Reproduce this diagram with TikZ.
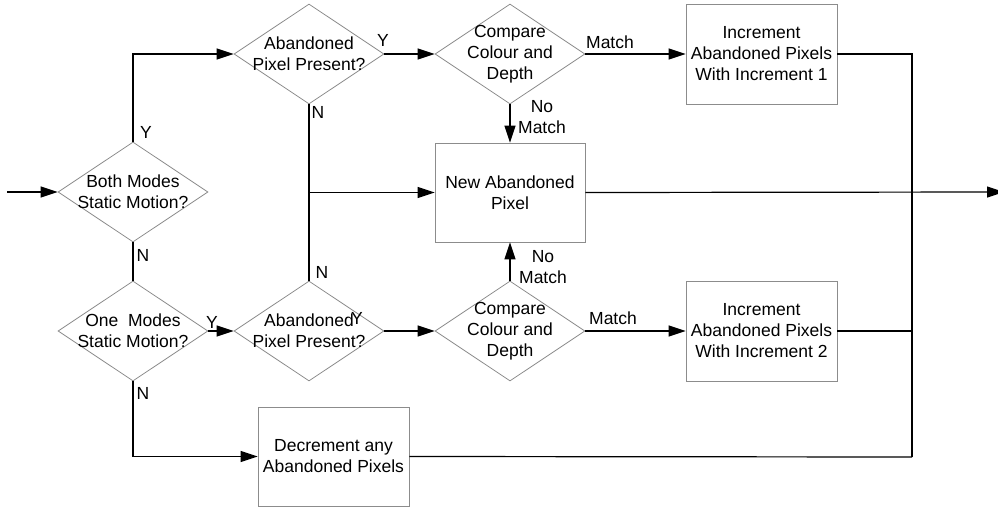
\documentclass[tikz,border=0pt]{standalone}
\usepackage{fontspec}
\setmainfont{Liberation Sans}
\usetikzlibrary{shapes.geometric,arrows.meta}
\definecolor{shapegray}{HTML}{8C8C8C}
\newcommand\flowfont{\fontsize{17.5}{21}\selectfont}

\begin{document}
\begin{tikzpicture}[x=1pt,y=-1pt,
  shape line/.style={draw=shapegray, line width=0.8pt},
  decision/.style={diamond, shape line, inner sep=0pt,
    minimum width=150pt, minimum height=100pt},
  process/.style={rectangle, shape line, inner sep=0pt,
    minimum width=151pt, minimum height=100pt, align=center, font=\flowfont},
  txt/.style={align=center, font=\flowfont, inner sep=0pt},
  lbl/.style={align=center, font=\flowfont, inner sep=0pt},
  flow/.style={draw=black, line width=1.2pt},
  arr/.style={flow, -{Triangle[length=17pt,width=11pt]}}
]
\useasboundingbox (0,0) rectangle (998,508);

% decisions
\node[decision, label={[txt]center:{Both Modes\\Static Motion?}}] (both) at (133,192) {};
\node[decision, label={[txt]center:{One~ Modes\\Static Motion?}}] (one) at (133,331) {};
\node[decision, label={[txt]center:{Abandoned\\Pixel Present?}}] (ab1) at (309,54) {};
\node[decision, label={[txt]center:{Abandoned\\Pixel Present?}}] (ab2) at (309,331) {};
\node[decision, label={[txt]center:{Compare\\Colour and\\Depth}}] (cmp1) at (510,54) {};
\node[decision, label={[txt]center:{Compare\\Colour and\\Depth}}] (cmp2) at (510,331) {};

% processes
\node[process] (inc1) at (761.5,54) {Increment\\Abandoned Pixels\\With Increment 1};
\node[process] (inc2) at (761.5,331) {Increment\\Abandoned Pixels\\With Increment 2};
\node[process, minimum width=150pt, minimum height=99pt] (newab) at (510,192.5) {New Abandoned\\Pixel};
\node[process, minimum height=99pt] (dec) at (333.5,456.5) {Decrement any\\Abandoned Pixels};

% free ends
\coordinate (in) at (7,192);
\coordinate (out) at (1004,192);
\coordinate (busTop) at (912,54);
\coordinate (busBot) at (912,457);

% connectors
\draw[arr] (in) -- (both.west);
\draw[arr] (both.north) |- (ab1.west);
\draw[flow] (both.south) -- (one.north);
\draw[arr] (one.east) -- (ab2.west);
\draw[arr] (one.south) |- (dec.west);
\draw[arr] (ab1.east) -- (cmp1.west);
\draw[arr] (ab2.east) -- (cmp2.west);
\draw[flow] (ab1.south) -- (ab2.north);
\draw[arr] (ab1.south |- newab.west) -- (newab.west);
\draw[arr] (cmp1.east) -- (inc1.west);
\draw[arr] (cmp2.east) -- (inc2.west);
\draw[arr] (cmp1.south) -- (newab.north);
\draw[arr] (cmp2.north) -- (newab.south);
\draw[flow] (inc1.east) -- (busTop) -- (busBot);
\draw[flow] (inc2.east) -- (inc2.east -| busTop);
\draw[flow] (dec.east) -- (busBot);
\draw[arr] (newab.east) -- (out);

% branch labels
\node[lbl] (yBoth) at (146,132) {Y};
\node[lbl] (nBoth) at (143,255) {N};
\node[lbl] (yOne) at (212,322) {Y};
\node[lbl] (nOne) at (143,393) {N};
\node[lbl] (yAb1) at (383,40) {Y};
\node[lbl] (nAb1) at (318,112) {N};
\node[lbl] (nAb2) at (322,272) {N};
\node[lbl] (yAb2) at (357,318) {Y};
\node[lbl] (mCmp1) at (610,42) {Match};
\node[lbl] (nmCmp1) at (542,117) {No\\Match};
\node[lbl] (mCmp2) at (613,318) {Match};
\node[lbl] (nmCmp2) at (543,267) {No\\Match};
\end{tikzpicture}
\end{document}
